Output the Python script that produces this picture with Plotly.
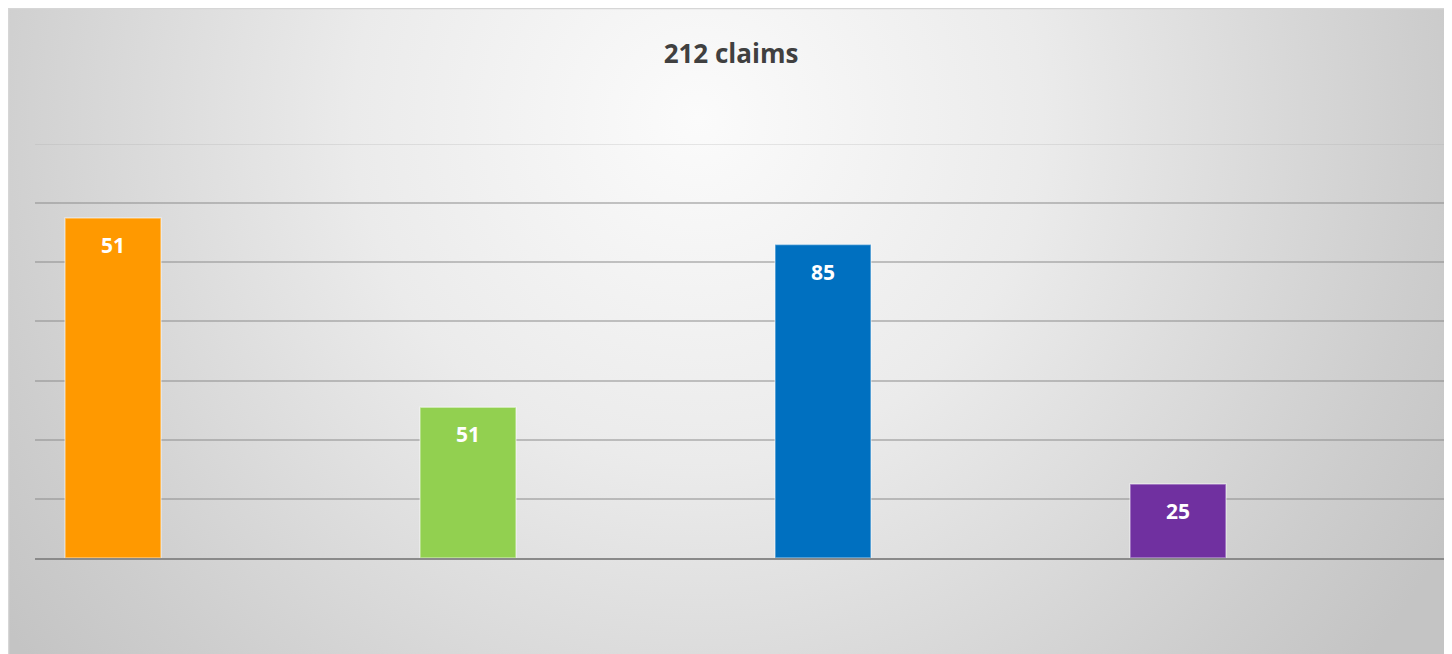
import base64
import plotly.graph_objects as go

# ---- data ----
categories = ["A", "B", "C", "D"]
bar_values = [115, 51, 106, 25]          # bar heights (grid step 20)
bar_labels = ["51", "51", "85", "25"]    # data labels shown on the bars
bar_colors = ["#FF9900", "#92D050", "#0070C0", "#7030A0"]
title_text = "212 claims"
y_max = 140
y_step = 20

# figure coordinates (page body has an 8px margin)
W, H = 1452, 654
plot_l, plot_r, plot_t, plot_b = 27, 1452, 136, 550

svg = f'''<svg xmlns="http://www.w3.org/2000/svg" width="{W}" height="{H}" viewBox="0 0 {W} {H}" preserveAspectRatio="none">
<defs><radialGradient id="g" gradientUnits="userSpaceOnUse" cx="690" cy="110" r="860">
<stop offset="0" stop-color="#fbfbfb"/>
<stop offset="0.4" stop-color="#ebebeb"/>
<stop offset="0.85" stop-color="#cdcdcd"/>
<stop offset="1" stop-color="#c4c4c4"/>
</radialGradient></defs>
<rect x="0" y="0" width="{W}" height="{H}" fill="url(#g)"/>
</svg>'''
src = "data:image/svg+xml;base64," + base64.b64encode(svg.encode()).decode()

pw, ph = plot_r - plot_l, plot_b - plot_t
def px_to_paper_x(px):
    return (px - plot_l) / pw
def py_to_paper_y(py):
    return (plot_b - py) / ph

xpos = list(range(len(categories)))
spacing = 355.0
first_center = 105.0
x_lo = 0 - (first_center - plot_l) / spacing
x_hi = x_lo + pw / spacing

fig = go.Figure()
fig.add_trace(go.Bar(
    x=xpos, y=bar_values, width=96 / spacing,
    marker=dict(color=bar_colors, line=dict(color="rgba(255,255,255,0.45)", width=1.5)),
    hoverinfo="skip",
))

for xi, v, lab in zip(xpos, bar_values, bar_labels):
    fig.add_annotation(x=xi, y=v, text=f"<b>{lab}</b>", showarrow=False,
                       yanchor="middle", yshift=-27,
                       font=dict(family="Open Sans", size=21, color="white"))

fig.add_layout_image(dict(
    source=src, xref="paper", yref="paper",
    x=px_to_paper_x(0), y=py_to_paper_y(0),
    sizex=W / pw, sizey=H / ph,
    xanchor="left", yanchor="top", sizing="stretch", layer="below",
))

fig.add_shape(type="rect", xref="paper", yref="paper",
              x0=px_to_paper_x(0.5), x1=px_to_paper_x(W + 5),
              y0=py_to_paper_y(H + 5), y1=py_to_paper_y(0.5),
              line=dict(color="#d6d6d6", width=1.5), fillcolor="rgba(0,0,0,0)", layer="above")

# top gridline (lighter, at the upper edge of the value axis)
fig.add_shape(type="line", xref="paper", yref="y", x0=0, x1=1, y0=y_max, y1=y_max,
              line=dict(color="rgba(170,170,170,0.35)", width=1.5), layer="below")

fig.update_layout(
    width=W, height=H,
    margin=dict(l=plot_l, r=W - plot_r, t=plot_t, b=H - plot_b, pad=0),
    paper_bgcolor="white", plot_bgcolor="rgba(0,0,0,0)",
    showlegend=False,
    title=dict(text=f"<b>{title_text}</b>", x=723 / W, xref="container", xanchor="center",
               y=1 - 46 / H, yref="container", yanchor="middle",
               font=dict(family="Open Sans", size=26, color="#404040")),
    xaxis=dict(range=[x_lo, x_hi], showticklabels=False, showgrid=False, zeroline=False,
               showline=True, linecolor="#8a8a8a", linewidth=2, ticks=""),
    yaxis=dict(range=[0, y_max], dtick=y_step, tick0=0, showticklabels=False, showgrid=True,
               gridcolor="rgba(140,140,140,0.5)", gridwidth=1.5, zeroline=False, ticks=""),
)

fig.write_html("out.html")
